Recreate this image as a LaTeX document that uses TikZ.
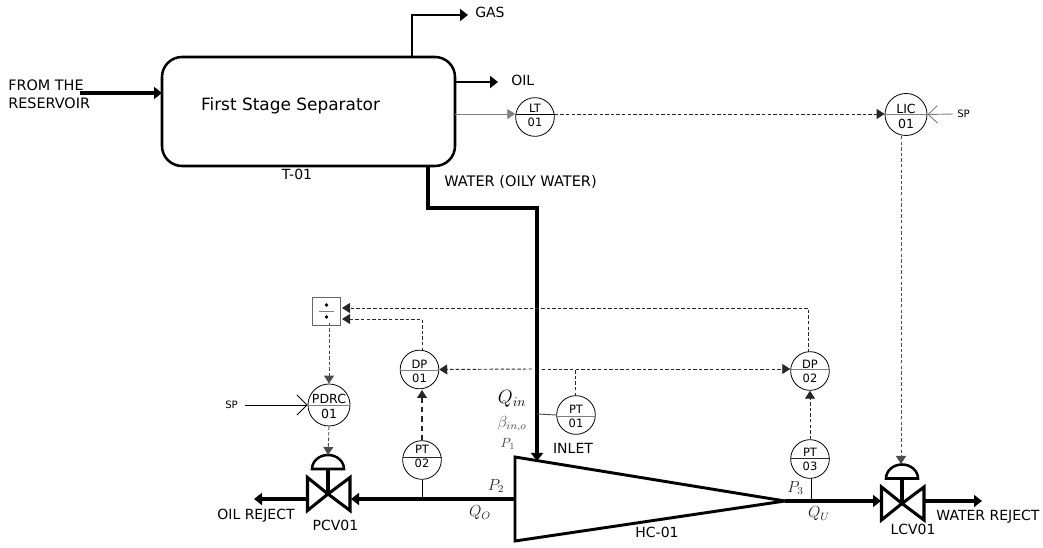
\documentclass[tikz,border=0pt]{standalone}
\usepackage{fontspec}
\setmainfont{DejaVu Sans}
\usetikzlibrary{arrows.meta}

\tikzset{
    pipe/.style={line width=2.6pt,-{Triangle[length=6pt,width=9pt]}},
    signal/.style={line width=.7pt,dashed,dash pattern=on 2.6pt off 1.6pt,black!85,-{Triangle[length=6pt,width=7.5pt]}},
    signalplain/.style={line width=.7pt,dashed,dash pattern=on 2.6pt off 1.6pt,black!85},
    inst/.style={draw,circle,line width=.6pt,inner sep=0pt,minimum size=29pt},
    instbig/.style={inst,minimum size=31.5pt},
    lab/.style={inner sep=0pt,font=\fontsize{10.5pt}{12pt}\selectfont},
    tag/.style={inner sep=0pt,font=\fontsize{8.6pt}{10pt}\selectfont},
    tagbig/.style={inner sep=0pt,font=\fontsize{9.4pt}{11pt}\selectfont},
    sptext/.style={inner sep=0pt,font=\fontsize{7.6pt}{9pt}\selectfont},
    valvebody/.style={line width=2.3pt,line join=miter}
}

% valve with its actuator: name, x of the cross, y of the cross
\newcommand{\valve}[3]{
    \begin{scope}[shift={(#2,#3)}]
        \draw[valvebody] (-20.5,-16.5) -- (-20.5,16.5) -- (0,0) -- cycle;
        \draw[valvebody] (22,-16.5) -- (22,16.5) -- (0,0) -- cycle;
        \draw[valvebody] (0,0) -- (0,-25);
        \draw[valvebody,line width=1.9pt] (-16,-25) -- (16,-25) arc[start angle=0,end angle=-180,x radius=16,y radius=14] -- cycle;
        \coordinate (#1 top) at (0,-39);
    \end{scope}
}

\begin{document}
\begin{tikzpicture}[x=.75pt,y=-.75pt]
    \useasboundingbox (0,0) rectangle (1043,548);

    % separator
    \draw[line width=1.9pt,rounded corners=15pt] (162,57) rectangle (455,166);
    \coordinate (tank in) at (162,93);
    \coordinate (tank gas) at (412,57);
    \coordinate (tank oil) at (455,82);
    \coordinate (tank lt) at (455,114);
    \coordinate (tank water) at (428,166);
    \node[inner sep=0pt,font=\fontsize{12.7pt}{14pt}\selectfont] (tank) at (290.5,106) {First Stage Separator};
    \node[lab] (tanktag) at (297,174) {T-01};

    \node[lab,align=left,anchor=north west,font=\fontsize{10.8pt}{13.4pt}\selectfont] (from) at (8,79.5) {FROM THE\\RESERVOIR};
    \coordinate (from end) at (80,93);
    \draw[pipe] (from end) -- (tank in);

    \coordinate (gas end) at (468,15);
    \node[lab,anchor=west] (gas) at (475,12) {GAS};
    \draw[line width=1.5pt,-{Triangle[length=6pt,width=9pt]}] (tank gas) |- (gas end);

    \coordinate (oil end) at (498,82);
    \node[lab,anchor=west] (oil) at (511,80) {OIL};
    \draw[line width=1.5pt,-{Triangle[length=6pt,width=9pt]}] (tank oil) -- (oil end);

    % instruments
    \foreach \n/\x/\y/\d/\p/\q/\a/\b/\c in {lt/535/117/114/108.5/122/LT/01/black,
                                   dpa/419.5/369.5/370/364/378/DP/01/black!50,
                                   dpb/810/371/369/364/378/DP/02/black!50,
                                   pta/576/415/416/409/423/PT/01/black!50,
                                   ptb/422/460/457/449/463/PT/02/black!85,
                                   ptc/810/459/458/452/466.5/PT/03/black!85}
        {\node[inst] (\n) at (\x,\y) {};
         \draw[\c,line width=.7pt] (\x-19.5,\d) -- (\x+19.5,\d);
         \node[tag] (\n a) at (\x,\p) {\a};
         \node[tag] (\n b) at (\x,\q) {\b};}
    \foreach \n/\x/\y/\a/\b in {lic/906/114.5/LIC/01,pdrc/329/405/PDRC/01}
        {\node[instbig] (\n) at (\x,\y) {};
         \draw[black!50,line width=.7pt] (\n.west) -- (\n.east);
         \node[tagbig] (\n a) at (\x,\y-6) {\a};
         \node[tagbig] (\n b) at (\x,\y+9) {\b};}

    % level loop
    \draw[black!50,line width=.7pt,-{Triangle[length=6pt,width=7.5pt]}] (tank lt) -- (tank lt -| lt.west);
    \draw[signal] (lt.east |- tank lt) -- (tank lt -| lic.west);
    \node[sptext,anchor=west] (lic sp) at (957,114) {SP};
    \coordinate (lic spend) at (953,114);
    \draw[black!50,line width=.7pt,-{Straight Barb[length=7pt,width=13pt]}] (lic spend) -- (lic.east);

    % hydrocyclone
    \draw[line width=2.2pt,line join=miter] (515,457) coordinate (hc top) -- (515,541) -- (785,501) coordinate (hc tip) -- cycle;
    \node[lab] (hc) at (657,532) {HC-01};
    \coordinate (hc in) at (537,461);
    \coordinate (hc out) at (515,499);

    \draw[line width=2.8pt,-{Triangle[length=6pt,width=9pt]}] (tank water) -- (428,208) -- (537,208) -- (hc in);
    \node[anchor=west,inner sep=0pt,font=\fontsize{10.9pt}{12pt}\selectfont] (water) at (444,182) {WATER (OILY WATER)};

    % valves
    \valve{pcv}{328}{494}
    \valve{lcv}{902}{503.5}
    \node[lab] (pcvtag) at (335.5,525) {PCV01};
    \node[lab] (lcvtag) at (913,529) {LCV01};
    \node[lab] (oilrej) at (256,516) {OIL REJECT};
    \node[lab] (watrej) at (988,517) {WATER REJECT};
    \coordinate (pcv right) at (351,499);
    \coordinate (pcv left) at (308,499);
    \coordinate (lcv left) at (881,501);
    \coordinate (lcv right) at (924.5,501);
    \coordinate (oilrej end) at (254,499);
    \coordinate (watrej end) at (982,501);
    \draw[pipe] (hc out) -- (pcv right);
    \draw[pipe] (pcv left) -- (oilrej end);
    \draw[pipe] (hc tip) -- (lcv left);
    \draw[pipe] (lcv right) -- (watrej end);

    % divider
    \node[draw=black!60,line width=.7pt,minimum size=21.5pt,inner sep=0pt] (div) at (326.5,311.5) {};
    \draw[black!50,line width=.7pt] (319,311) -- (334,311);
    \fill (326.5,305) circle (1.4pt);
    \fill (326.5,317) circle (1.4pt);
    \coordinate (div hi) at (342,308);
    \coordinate (div lo) at (342,319);

    % pressure signals
    \coordinate (gap l) at (532,369);
    \coordinate (gap r) at (542,369);
    \coordinate (pta up) at (575,369);
    \coordinate (pta top) at (575,396);
    \coordinate (pta pipe) at (537,414);
    \coordinate (ptb pipe) at (422,499);
    \coordinate (ptc pipe) at (811,501);
    \coordinate (ptc foot) at (811,478);
    \coordinate (dpa corner) at (422,319);
    \coordinate (dpa foot) at (422,351);
    \coordinate (dpa head) at (422,390);
    \coordinate (dpb top) at (808,352.5);
    \coordinate (dpb corner) at (808,308);
    \coordinate (div foot) at (329,322.6);
    \coordinate (lic foot) at (901,136);
    \coordinate (lcv head) at (901,464);
    \draw[signal] (gap l) -- (dpa.east);
    \draw[signal] (gap r) -- (gap r -| dpb.west);
    \draw[signalplain] (pta top) -- (pta up);
    \draw[black!70,line width=.7pt] (pta pipe) -- (pta.west);
    \draw[black,line width=.7pt] (ptb.south) -- (ptb pipe);
    \draw[black,line width=.7pt] (ptc foot) -- (ptc pipe);
    \draw[signal,line width=1pt,dash pattern=on 4pt off 3pt] (ptb.north) -- (dpa head);
    \draw[signal] (ptc.north) -- (dpb.south);
    \draw[signal] (dpa foot) -- (dpa corner) -- (div lo);
    \draw[signal] (dpb top) -- (dpb corner) -- (div hi);
    \draw[signal,black!70] (div foot) -- (pdrc.north);
    \draw[signal,black!70] (pdrc.south) -- (pcv top);
    \draw[signal,black!70] (lic foot) -- (lcv head);

    \node[sptext,anchor=west] (pdrc sp) at (225,405) {SP};
    \coordinate (pdrc spend) at (245,405);
    \draw[line width=.7pt,-{Straight Barb[length=7.5pt,width=15pt]}] (pdrc spend) -- (pdrc.west);

    % flow labels
    \node[inner sep=0pt,font=\Large] (qin) at (512,399) {$Q_{in}$};
    \node[inner sep=0pt,black!70,font=\large] (beta) at (512,424) {$\beta_{in,o}$};
    \node[inner sep=0pt,black!70] (pone) at (508,444) {$P_1$};
    \node[inner sep=0pt,font=\large,black!85] (ptwo) at (496,486) {$P_2$};
    \node[inner sep=0pt,font=\large,black!85] (qo) at (480,513) {$Q_O$};
    \node[inner sep=0pt,font=\large,black!85] (pthree) at (795.5,488) {$P_3$};
    \node[inner sep=0pt,font=\large,black!85] (qu) at (819,514) {$Q_U$};
    \node[lab] (inlet) at (573,448) {INLET};
\end{tikzpicture}
\end{document}
